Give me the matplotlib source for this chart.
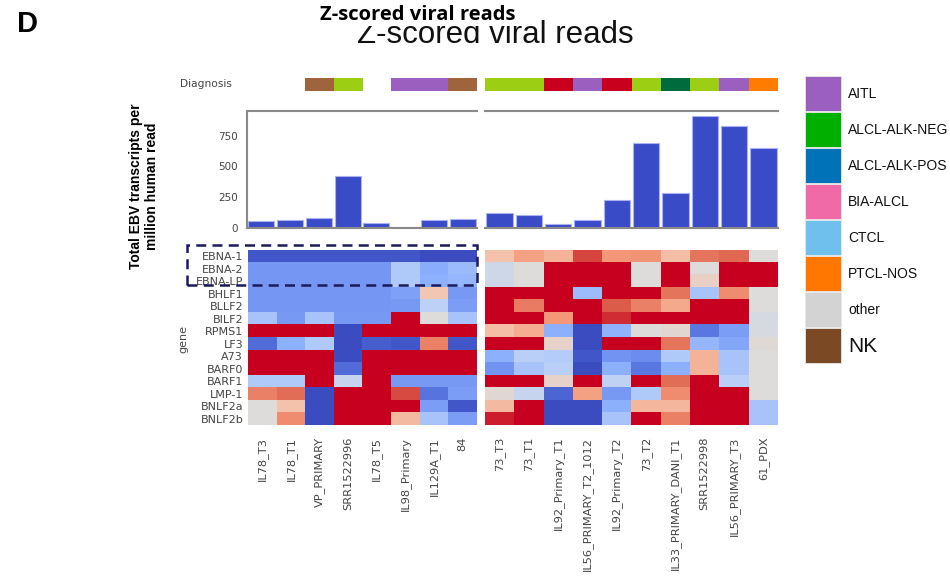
import numpy as np
import matplotlib
matplotlib.use("Agg")
import matplotlib.pyplot as plt
from matplotlib.colors import LinearSegmentedColormap
from matplotlib.patches import Rectangle

# samples in the two groups
samples_left = ['IL78_T3', 'IL78_T1', 'VP_PRIMARY', 'SRR1522996', 'IL78_T5',
                'IL98_Primary', 'IL129A_T1', '84']
samples_right = ['73_T3', '73_T1', 'IL92_Primary_T1', 'IL56_PRIMARY_T2_1012',
                 'IL92_Primary_T2', '73_T2', 'IL33_PRIMARY_DANI_T1', 'SRR1522998',
                 'IL56_PRIMARY_T3', '61_PDX']

genes = ['EBNA-1', 'EBNA-2', 'EBNA-LP', 'BHLF1', 'BLLF2', 'BILF2', 'RPMS1',
         'LF3', 'A73', 'BARF0', 'BARF1', 'LMP-1', 'BNLF2a', 'BNLF2b']

# total EBV transcripts per million human reads
total_left = [54, 65, 84, 420, 38, 2, 62, 73]
total_right = [119, 106, 30, 65, 230, 692, 282, 909, 828, 646]

# diagnosis code per sample ('' = none)
diag_left = ['', '', 'NK', 'lime', '', 'AITL', 'AITL', 'NK']
diag_right = ['lime', 'lime', 'red', 'AITL', 'red', 'lime', 'darkgreen',
              'lime', 'AITL', 'PTCL-NOS']
diag_colors = {'': 'white', 'NK': '#a0643c', 'lime': '#9ccf14', 'AITL': '#9b5fc0',
               'red': '#c8001e', 'darkgreen': '#006b3c', 'PTCL-NOS': '#ff7c00'}

legend_labels = ['AITL', 'ALCL-ALK-NEG', 'ALCL-ALK-POS', 'BIA-ALCL', 'CTCL',
                 'PTCL-NOS', 'other', 'NK']
legend_colors = ['#9b5fc0', '#00b000', '#0072b8', '#f06aa8', '#70c0ee',
                 '#ff7700', '#d3d3d3', '#7b4a25']

# z-scores, rows = genes, cols = samples
z_left = [
    [-0.95, -0.95, -0.95, -0.95, -0.95, -0.95, -1.0, -1.0],
    [-0.64, -0.64, -0.64, -0.64, -0.64, -0.3, -0.52, -0.42],
    [-0.64, -0.64, -0.64, -0.64, -0.64, -0.3, -0.5, -0.45],
    [-0.64, -0.64, -0.64, -0.64, -0.64, -0.58, 0.22, -0.62],
    [-0.64, -0.64, -0.64, -0.64, -0.64, -0.62, -0.22, -0.6],
    [-0.35, -0.62, -0.35, -0.62, -0.62, 1.0, 0.0, -0.35],
    [1.0, 1.0, 1.0, -1.0, 1.0, 1.0, 1.0, 1.0],
    [-0.85, -0.5, -0.3, -1.0, -0.92, -0.95, 0.6, -0.95],
    [1.0, 1.0, 1.0, -1.0, 1.0, 1.0, 1.0, 1.0],
    [1.0, 1.0, 1.0, -0.85, 1.0, 1.0, 1.0, 1.0],
    [-0.3, -0.3, 1.0, -0.15, 1.0, -0.62, -0.62, -0.62],
    [0.6, 0.68, -1.0, 1.0, 1.0, 0.8, -0.82, -0.6],
    [0.0, 0.25, -1.0, 1.0, 1.0, 1.0, -0.6, -0.95],
    [0.0, 0.55, -1.0, 1.0, 1.0, 0.3, -0.35, -0.6],
]
z_right = [
    [0.25, 0.45, 0.35, 0.82, 0.5, 0.52, 0.28, 0.65, 0.7, 0.0],
    [-0.1, 0.0, 1.0, 1.0, 1.0, 0.0, 1.0, 0.0, 1.0, 1.0],
    [-0.1, 0.0, 1.0, 1.0, 1.0, 0.0, 1.0, 0.12, 1.0, 1.0],
    [1.0, 1.0, 1.0, -0.4, 1.0, 1.0, 0.65, -0.35, 0.55, 0.0],
    [1.0, 0.62, 1.0, 1.0, 0.75, 0.6, 0.4, 1.0, 1.0, 0.0],
    [1.0, 1.0, 0.5, 1.0, 0.88, 1.0, 1.0, 1.0, 1.0, -0.05],
    [0.28, 0.38, -0.5, -1.0, -0.48, 0.0, 0.06, -0.8, -0.6, -0.04],
    [1.0, 1.0, 0.1, -1.0, 1.0, 1.0, 0.65, -0.45, -0.55, 0.03],
    [-0.5, -0.25, -0.28, -0.95, -0.65, -0.68, -0.3, 0.35, -0.35, 0.0],
    [-0.65, -0.35, -0.25, -1.0, -0.5, -0.8, -0.5, 0.35, -0.35, 0.0],
    [1.0, 1.0, 0.1, 1.0, -0.2, 1.0, 0.68, 1.0, -0.25, 0.0],
    [0.05, -0.15, -0.88, 0.45, -0.62, -0.3, 0.55, 1.0, 1.0, 0.0],
    [0.3, 1.0, -1.0, -1.0, -0.5, 0.32, 0.32, 1.0, 1.0, -0.35],
    [0.92, 1.0, -1.0, -1.0, -0.35, 1.0, 0.6, 1.0, 1.0, -0.35],
]

W, H = 950, 583
GREY = '#444444'
SPINE = '#8a8a8a'


def box(x0, y0, x1, y1):
    # pixel box (top-left origin) -> figure fraction rect
    return [x0 / W, 1 - y1 / H, (x1 - x0) / W, (y1 - y0) / H]


# coolwarm with a more saturated red end
cw = plt.get_cmap('coolwarm')
stops = [cw(v) for v in np.linspace(0, 1, 9)]
stops[-1] = '#c6001e'
cmap = LinearSegmentedColormap.from_list('cw2', stops)

fig = plt.figure(figsize=(W / 100, H / 100), dpi=100)

groups = [
    (samples_left, total_left, diag_left, z_left, 248, 477),
    (samples_right, total_right, diag_right, z_right, 485, 778),
]

for gi, (names, totals, diag, z, x0, x1) in enumerate(groups):
    n = len(names)
    pos = np.arange(n)

    # diagnosis strip
    ad = fig.add_axes(box(x0, 78, x1, 91))
    ad.bar(pos, 1, width=1.0, color=[diag_colors[d] for d in diag], linewidth=0)
    ad.set_xlim(-0.5, n - 0.5)
    ad.set_ylim(0, 1)
    ad.axis('off')

    # total reads bars
    ab = fig.add_axes(box(x0 - 1 if gi == 0 else x0, 111, x1, 228))
    ab.bar(pos, totals, width=0.9, color='#3a4bc8', edgecolor='#aab2f2',
           linewidth=0.8)
    ab.set_xlim(-0.5, n - 0.5)
    ab.set_ylim(0, 950)
    ab.set_xticks([])
    ab.spines['right'].set_visible(False)
    for s in ['top', 'bottom', 'left']:
        ab.spines[s].set_color(SPINE)
        ab.spines[s].set_linewidth(1.5)
    if gi == 0:
        ab.set_yticks([0, 250, 500, 750])
        ab.tick_params(axis='y', length=0, pad=6.5, labelsize=7.5,
                       labelcolor=GREY)
    else:
        ab.spines['left'].set_visible(False)
        ab.set_yticks([])

    # z-score heatmap
    ah = fig.add_axes(box(x0, 250, x1, 425))
    ah.imshow(np.array(z), cmap=cmap, vmin=-1, vmax=1, aspect='auto',
              interpolation='nearest')
    for s in ah.spines.values():
        s.set_visible(False)
    ah.set_xticks(pos)
    ah.set_xticklabels(names, rotation=90, fontsize=8.2, color=GREY)
    ah.tick_params(axis='x', length=0, pad=8.5)
    if gi == 0:
        ah.set_yticks(np.arange(len(genes)))
        ah.set_yticklabels(genes, fontsize=8, color=GREY)
        ah.tick_params(axis='y', length=0, pad=3.5)
    else:
        ah.set_yticks([])

# labels
fig.text(180 / W, 1 - 84 / H, 'Diagnosis', ha='left', va='center',
         fontsize=7.7, color=GREY)
fig.text(183 / W, 1 - 339 / H, 'gene', rotation=90, ha='center', va='center',
         fontsize=8, color=GREY)
fig.text(144 / W, 1 - 186 / H, 'Total EBV transcripts per\nmillion human read',
         rotation=90, ha='center', va='center', fontsize=10, fontweight='bold',
         family='Liberation Sans', linespacing=1.25)

# highlight box around EBNA rows
fig.add_artist(Rectangle((187 / W, 1 - 285 / H), 290 / W, 40 / H, fill=False,
                         ec='#1b1b5a', lw=1.8, ls=(0, (4, 2.5)),
                         transform=fig.transFigure))

# titles
fig.text(495 / W, 1 - 43 / H, 'Z-scored viral reads', ha='center',
         va='baseline', fontsize=22.5, family='Liberation Sans', color='#111111')
fig.text(418 / W, 1 - 20 / H, 'Z-scored viral reads', ha='center',
         va='baseline', fontsize=14.5, fontweight='bold', family='Open Sans',
         bbox=dict(facecolor='white', edgecolor='none', pad=0.5))
fig.text(17 / W, 1 - 32 / H, 'D', ha='left', va='baseline', fontsize=21,
         fontweight='bold', family='Liberation Sans')

# diagnosis legend
for i, (lab, col) in enumerate(zip(legend_labels, legend_colors)):
    top = 76 + 36 * i
    fig.add_artist(Rectangle((805 / W, 1 - (top + 35) / H), 36 / W, 35 / H,
                             fc=col, ec='#e8e8e8', lw=0.6,
                             transform=fig.transFigure))
    fs = 15 if lab == 'NK' else 10
    fig.text(848 / W, 1 - (top + 18) / H, lab, ha='left', va='center',
             fontsize=fs, family='Liberation Sans', color='#111111')

fig.savefig('out.png', dpi=100)
